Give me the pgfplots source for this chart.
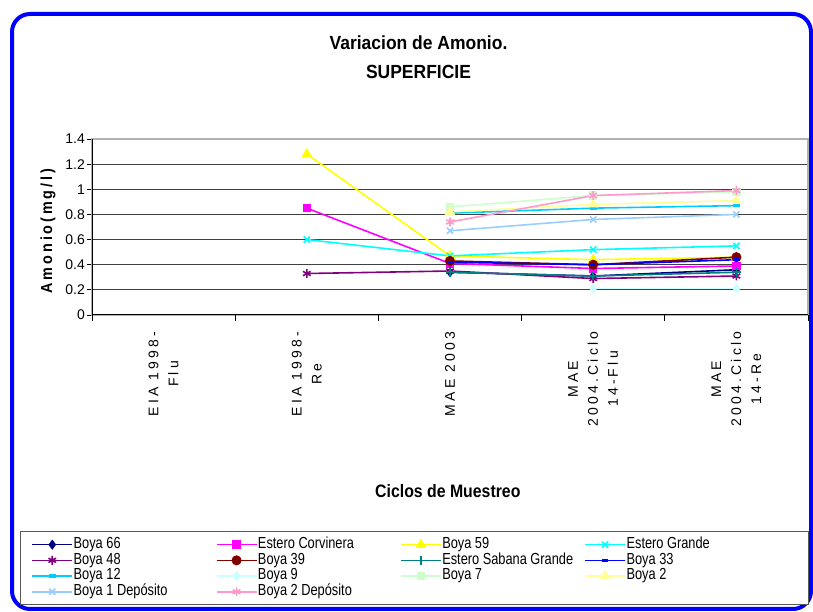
\documentclass[border=0pt]{standalone}
\usepackage{fontspec}
\setmainfont{Liberation Sans}
\newfontfamily\titlefont[FakeStretch=0.92]{Liberation Sans}
\newfontfamily\narrowfont[FakeStretch=0.88]{Liberation Sans}
\newfontfamily\legfont[FakeStretch=0.8]{Liberation Sans}
\newfontfamily\spacedfont[LetterSpace=23]{Liberation Sans}
\newfontfamily\ylabfont[FakeStretch=0.9,LetterSpace=18]{Liberation Sans}
\usepackage{pgfplots}
\pgfplotsset{compat=1.18}
\definecolor{c1}{HTML}{000080}
\definecolor{c2}{HTML}{FF00FF}
\definecolor{c3}{HTML}{FFFF00}
\definecolor{c4}{HTML}{00FFFF}
\definecolor{c5}{HTML}{800080}
\definecolor{c6}{HTML}{800000}
\definecolor{c7}{HTML}{008080}
\definecolor{c8}{HTML}{0000FF}
\definecolor{c9}{HTML}{00CCFF}
\definecolor{c10}{HTML}{CCFFFF}
\definecolor{c11}{HTML}{CCFFCC}
\definecolor{c12}{HTML}{FFFF99}
\definecolor{c13}{HTML}{99CCFF}
\definecolor{c14}{HTML}{FF99CC}
\newcommand{\lt}[1]{\makebox[141.5bp][l]{#1}}
\newcommand{\ltl}[1]{\makebox[170bp][l]{#1}}
\begin{document}
\begin{tikzpicture}
\useasboundingbox (0bp,0bp) rectangle (813bp,612bp);
\draw[line width=4bp, color=blue, rounded corners=18bp] (12bp,3bp) rectangle (811bp,598bp);
\node at (418.5bp,569bp) {\fontsize{19bp}{22bp}\selectfont\titlefont\bfseries Variacion de Amonio.};
\node at (418.5bp,540bp) {\fontsize{19bp}{22bp}\selectfont\titlefont\bfseries SUPERFICIE};
\begin{axis}[
  at={(92bp,297bp)}, anchor=south west,
  scale only axis, width=716bp, height=176bp,
  xmin=-0.5, xmax=4.5, ymin=0, ymax=1.4,
  ytick={0,0.2,0.4,0.6,0.8,1,1.2,1.4},
  yticklabels={0,0.2,0.4,0.6,0.8,1,1.2,1.4},
  tick pos=left,
  ymajorgrids,
  grid style={black!75, line width=0.9bp},
  axis line style={draw=gray!60, line width=1.2bp},
  ytick style={draw=black, line width=0.8bp},
  tick align=outside,
  major tick length=5bp,
  yticklabel style={font=\fontsize{14bp}{16bp}\selectfont, inner sep=2bp},
  xtick={0,1,2,3,4},
  xtick style={draw=none},
  xticklabels={{EIA 1998-\\Flu},{EIA 1998-\\Re},{MAE 2003},{MAE\\2004.Ciclo\\14-Flu},{MAE\\2004.Ciclo\\14-Re}},
  xticklabel style={yshift=-8bp, rotate=90, anchor=east, align=center, font=\fontsize{14bp}{20bp}\selectfont\spacedfont},
  extra x ticks={-0.5,0.5,1.5,2.5,3.5,4.5},
  extra x tick labels={},
  extra x tick style={grid=none, xtick style={draw=black, line width=0.8bp}, major tick length=6bp},
  ylabel={Amonio(mg/l)},
  ylabel style={at={(axis description cs:-0.0615,0.477)}, anchor=center, font=\fontsize{16bp}{18bp}\selectfont\ylabfont\bfseries},
  xlabel={Ciclos de Muestreo},
  xlabel style={at={(axis description cs:0.497,-1.0)}, anchor=center, font=\fontsize{18bp}{20bp}\selectfont\narrowfont\bfseries},
  legend columns=4,
  legend cell align=left,
  legend style={at={(axis description cs:-0.1006,-1.227)}, anchor=north west,
    draw=gray!70!black, line width=1bp, inner xsep=11bp, inner ysep=5.5bp,
    font=\fontsize{16bp}{15bp}\selectfont\legfont,
    nodes={inner sep=0.6bp, text height=10.8bp, text depth=3.4bp},
    row sep=0.3bp},
  legend image code/.code={\draw[mark repeat=2,mark phase=2,#1] plot coordinates {(0bp,0bp) (20bp,0bp) (40bp,0bp)};},
  every axis plot/.append style={line width=1.6bp, mark size=3.8bp},
]
\addplot[c1, mark=diamond*, mark options={solid, fill=c1}] coordinates {(2,0.34) (3,0.31) (4,0.36)};
\addlegendentry{\lt{Boya 66}}
\addplot[c2, mark=square*, mark size=3.4bp, mark options={solid, fill=c2}] coordinates {(1,0.85) (2,0.41) (3,0.37) (4,0.39)};
\addlegendentry{\lt{Estero Corvinera}}
\addplot[c3, mark=triangle*, mark size=4.6bp, mark options={solid, fill=c3}] coordinates {(1,1.28) (2,0.47) (3,0.44) (4,0.46)};
\addlegendentry{\lt{Boya 59}}
\addplot[c4, mark=x, mark size=4.4bp, mark options={solid}] coordinates {(1,0.60) (2,0.47) (3,0.52) (4,0.55)};
\addlegendentry{\ltl{Estero Grande}}
\addplot[c5, mark=asterisk, mark size=4.4bp, mark options={solid}] coordinates {(1,0.33) (2,0.35) (3,0.29) (4,0.31)};
\addlegendentry{\lt{Boya 48}}
\addplot[c6, mark=*, mark size=4.2bp, mark options={solid, fill=c6}] coordinates {(2,0.43) (3,0.40) (4,0.46)};
\addlegendentry{\lt{Boya 39}}
\addplot[c7, mark=+, mark size=4.4bp, mark options={solid}] coordinates {(2,0.34) (3,0.31) (4,0.34)};
\addlegendentry{\lt{Estero Sabana Grande}}
\addplot[c8, mark=-, mark size=3bp, mark options={solid, line width=3bp}] coordinates {(2,0.42) (3,0.40) (4,0.44)};
\addlegendentry{\ltl{Boya 33}}
\addplot[c9, mark=-, mark size=3.5bp, mark options={solid, line width=3.5bp}] coordinates {(2,0.81) (3,0.85) (4,0.87)};
\addlegendentry{\lt{Boya 12}}
\addplot[c10, mark=diamond*, mark options={solid, fill=c10}] coordinates {(3,0.21) (4,0.21)};
\addlegendentry{\lt{Boya 9}}
\addplot[c11, mark=square*, mark size=3.4bp, mark options={solid, fill=c11}] coordinates {(2,0.86) (3,0.95) (4,0.98)};
\addlegendentry{\lt{Boya 7}}
\addplot[c12, mark=triangle*, mark size=4.6bp, mark options={solid, fill=c12}] coordinates {(2,0.82) (3,0.88) (4,0.91)};
\addlegendentry{\ltl{Boya 2}}
\addplot[c13, mark=x, mark size=4.4bp, mark options={solid}] coordinates {(2,0.67) (3,0.76) (4,0.80)};
\addlegendentry{\lt{Boya 1 Depósito}}
\addplot[c14, mark=asterisk, mark size=4.4bp, mark options={solid}] coordinates {(2,0.74) (3,0.95) (4,0.99)};
\addlegendentry{\lt{Boya 2 Depósito}}
\draw[black, line width=1.2bp] (rel axis cs:0,1) -- (rel axis cs:0,0) -- (rel axis cs:1,0);
\end{axis}
\end{tikzpicture}
\end{document}
